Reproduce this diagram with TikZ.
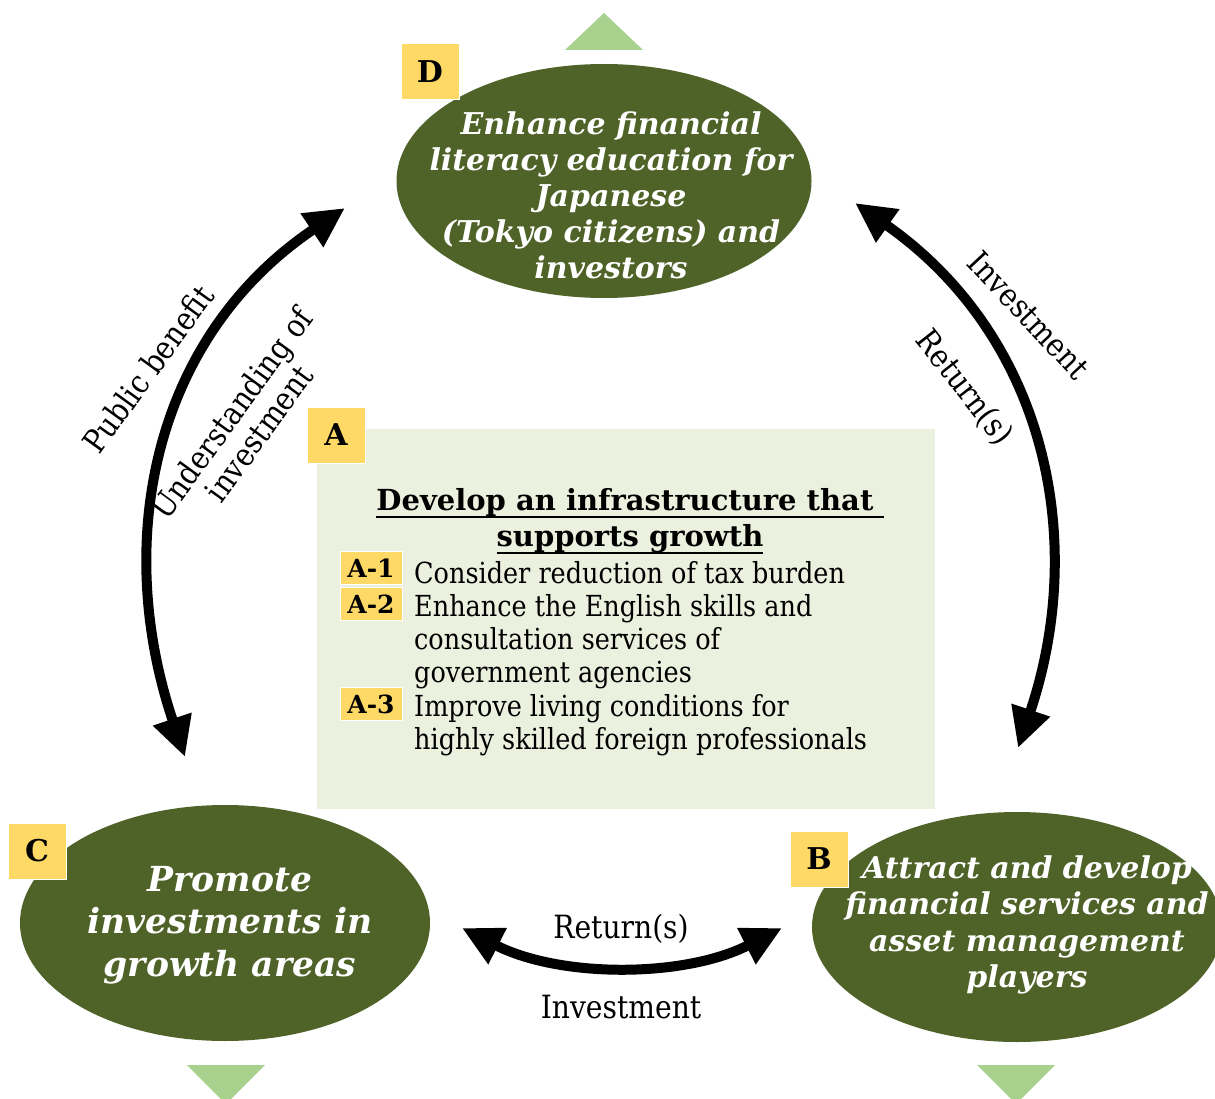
\documentclass[tikz,border=0pt]{standalone}
\usepackage{fontspec}
\setmainfont{DejaVu Serif}
\newfontfamily\bodyfont{DejaVu Serif}[FakeStretch=0.88]
\usetikzlibrary{shapes.geometric, arrows.meta, positioning}
\definecolor{solive}{HTML}{4F6228}
\definecolor{sbox}{HTML}{EBF1DE}
\definecolor{sgold}{HTML}{FFD966}
\definecolor{sleaf}{HTML}{A9D18E}
\newcommand{\fatul}[1]{\setbox0\hbox{#1}\rlap{\rule[-8pt]{\wd0}{2.2pt}}\box0}

\begin{document}
\begin{tikzpicture}[x=1pt,y=1pt,
    ELL/.style={ellipse,fill=solive,inner sep=0pt},
    ETXT/.style={text=white,align=center,inner sep=0pt,font=\bfseries\itshape\fontsize{30}{36}\selectfont},
    TAG/.style={draw=white,line width=1pt,fill=sgold,inner sep=0pt,minimum width=58pt,minimum height=56pt,font=\bfseries\fontsize{30}{30}\selectfont},
    SUB/.style={draw=white,line width=1pt,fill=sgold,inner sep=0pt,minimum width=62pt,minimum height=33pt,font=\bfseries\fontsize{25}{25}\selectfont},
    ITEM/.style={anchor=base west,align=left,inner sep=0pt,font=\bodyfont\fontsize{29}{33}\selectfont},
    LBL/.style={inner sep=0pt,align=center,font=\bodyfont\fontsize{32}{34}\selectfont},
    AR/.style={{Triangle[length=40pt,width=38pt]}-{Triangle[length=40pt,width=38pt]},line width=10pt}]
    \useasboundingbox (0,0) rectangle (1215,-1099);
    % green pointers
    \fill[sleaf] (565,-50) -- (604,-13) -- (643,-50) -- cycle;
    \fill[sleaf] (187,-1065) -- (265,-1065) -- (226,-1104) -- cycle;
    \fill[sleaf] (977,-1065) -- (1055,-1065) -- (1016,-1104) -- cycle;
    % centre box A
    \node[fill=sbox,inner sep=0pt,minimum width=618pt,minimum height=380pt,anchor=north west] (A) at (317,-429) {};
    \node[font=\bfseries\fontsize{29}{36}\selectfont,align=center,inner sep=0pt] (Ahead) at (630,-521)
        {\fatul{Develop an infrastructure that\ }\\\fatul{supports growth}};
    \node[SUB] (A1) at (371,-568) {A-1};
    \node[SUB] (A2) at (371,-604) {A-2};
    \node[SUB] (A3) at (371,-704) {A-3};
    % last line baseline given
    \node[ITEM] (A1txt) at (414,-583) {Consider reduction of tax burden};
    \node[ITEM] (A2txt) at (414,-682) {Enhance the English skills and\\consultation services of\\government agencies};
    \node[ITEM] (A3txt) at (414,-749) {Improve living conditions for\\highly skilled foreign professionals};
    % ellipses
    \node[ELL,minimum width=415pt,minimum height=234pt] (D) at (604,-181) {};
    \node[ETXT] (Dtxt) at (611,-195) {Enhance financial\\literacy education for\\Japanese\\(Tokyo citizens) and\\investors};
    \node[ELL,minimum width=410pt,minimum height=236pt] (C) at (225,-923) {};
    \node[ETXT,font=\bfseries\itshape\fontsize{34.5}{42.5}\selectfont] (Ctxt) at (230,-925) {Promote\\investments in\\growth areas};
    \node[ELL,minimum width=410pt,minimum height=230pt] (B) at (1017,-927) {};
    \node[ETXT,font=\bfseries\itshape\fontsize{30}{36.5}\selectfont] (Btxt) at (1027,-925) {Attract and develop\\financial services and\\asset management\\players};
    % letter tags
    \node[TAG] (tagD) at (430,-72) {D};
    \node[TAG] (tagA) at (336,-435) {A};
    \node[TAG] (tagC) at (37,-851) {C};
    \node[TAG] (tagB) at (819,-859) {B};
    % arcs between the ellipses
    \coordinate (lt) at (345,-208);
    \coordinate (lb) at (185,-757);
    \coordinate (rt) at (855,-203);
    \coordinate (rb) at (1018,-748);
    \coordinate (bl) at (462,-928);
    \coordinate (br) at (782,-928);
    \draw[AR] (lb) .. controls (112,-540) and (154,-337) .. (lt);
    \draw[AR] (rb) .. controls (1088,-540) and (1046,-337) .. (rt);
    \draw[AR] (bl) .. controls (560,-978) and (684,-978) .. (br);
    % arc labels
    \node[LBL,rotate=54] (pubben) at (148,-369) {Public benefit};
    \node[LBL,rotate=54] (undinv) at (245,-423) {Understanding of\\investment};
    \node[LBL,rotate=-47] (invR) at (1029,-315) {Investment};
    \node[LBL,rotate=-52] (retR) at (964,-388) {Return(s)};
    \node[LBL] (retB) at (621,-929) {Return(s)};
    \node[LBL] (invB) at (621,-1007) {Investment};
\end{tikzpicture}
\end{document}
